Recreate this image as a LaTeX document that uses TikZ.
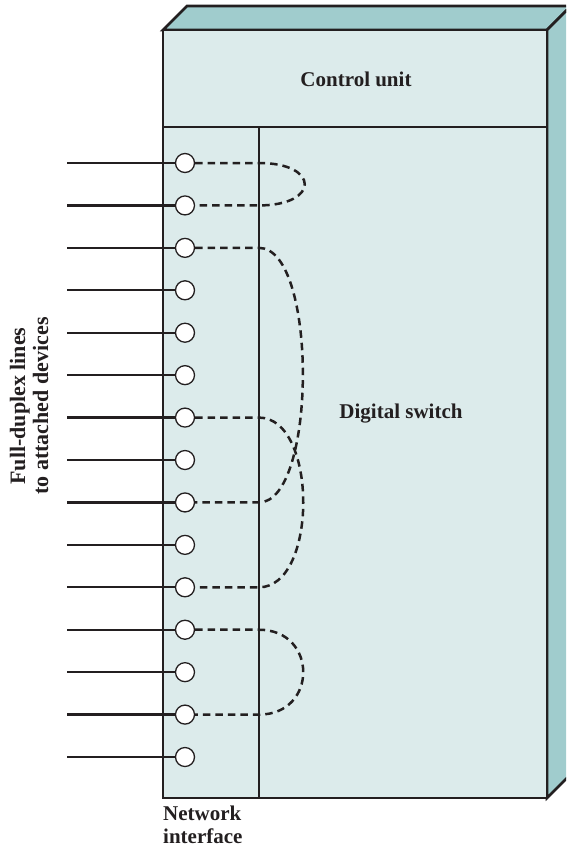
\documentclass[tikz,border=0pt]{standalone}
\usepackage{fontspec}
\setmainfont{Liberation Serif}
\definecolor{faceFront}{RGB}{220,235,235}
\definecolor{faceSide}{RGB}{160,204,205}
\definecolor{inkDark}{RGB}{35,31,32}

\begin{document}
\begin{tikzpicture}[x=1pt, y=-1pt,
    boxline/.style={draw=inkDark, line width=2.6pt},
    port/.style={circle, draw=inkDark, fill=white, line width=1.3pt, minimum size=19pt, inner sep=0pt},
    feed/.style={draw=inkDark, line width=2.3pt},
    link/.style={draw=inkDark, line width=2.5pt, dash pattern=on 7.5pt off 5pt},
    txt/.style={font=\fontsize{21}{23}\selectfont\bfseries, text=inkDark}]

            % Page frame
            \useasboundingbox (0,0) rectangle (566,849);
            \clip (0,0) rectangle (566,849);

            % --------------------------------------------------
            % Cabinet: top, side and front faces
            % --------------------------------------------------
            \filldraw[fill=faceSide, boxline] (163,30) -- (187,6) -- (571,6) -- (547,30) -- cycle;
            \filldraw[fill=faceSide, boxline] (547,30) -- (571,6) -- (571,774) -- (547,798) -- cycle;
            \filldraw[fill=faceFront, boxline] (163,30) rectangle (547,798);
            \draw[boxline] (163,127) -- (547,127);
            \coordinate (divtop) at (259,127);
            \draw[boxline] (divtop) -- (259,798);

            % Ports and full-duplex lines
            \foreach \i in {1,...,15} {
                \pgfmathsetmacro{\py}{163+42.43*(\i-1)}
                \node[port] (p\i) at (185,\py) {};
                \coordinate (w\i) at (67,\py);
                \draw[feed] (w\i) -- (p\i.west);
            }

            % --------------------------------------------------
            % Switched connections (dashed)
            % --------------------------------------------------
            \draw[link] (p1.east) -- (p1.east -| divtop)
                .. controls +(61,0) and +(61,0) .. (p2.east -| divtop) -- (p2.east);
            \draw[link] (p3.east) -- (p3.east -| divtop)
                .. controls +(59,0) and +(58,0) .. (p9.east -| divtop) -- (p9.east);
            \draw[link] (p7.east) -- (p7.east -| divtop)
                .. controls +(59,0) and +(59,0) .. (p11.east -| divtop) -- (p11.east);
            \draw[link] (p12.east) -- (p12.east -| divtop)
                .. controls +(59,0) and +(59,0) .. (p14.east -| divtop) -- (p14.east);

            % Labels
            \node[txt] (ctrl) at (356,79) {Control unit};
            \node[txt] (swt) at (401,414) {Digital switch};
            \node[txt, font=\fontsize{22}{23}\selectfont\bfseries, rotate=90, align=center] (lines) at (29,406) {Full-duplex lines\\to attached devices};
            \node[txt, anchor=north west, align=left, inner sep=0pt] (nif) at (163,806) {Network\\interface};

\end{tikzpicture}
\end{document}
